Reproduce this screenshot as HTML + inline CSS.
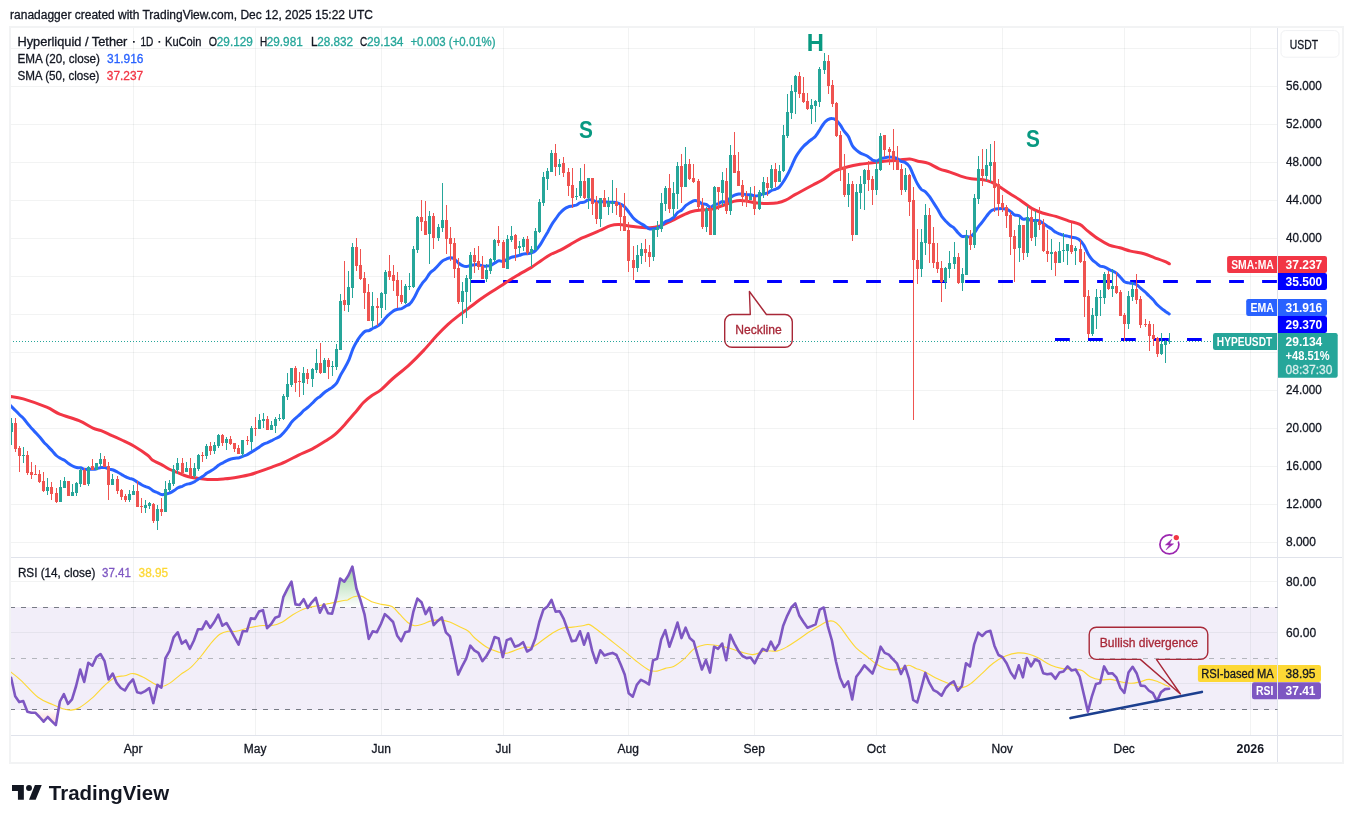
<!DOCTYPE html><html><head><meta charset="utf-8"><title>HYPEUSDT chart</title><style>html,body{margin:0;padding:0;background:#fff}svg{display:block;will-change:transform}</style></head><body><svg width="1353" height="823" viewBox="0 0 1353 823" font-family='"Liberation Sans", sans-serif'>
<rect width="1353" height="823" fill="#fff"/>
<text x="10.1" y="18.9" font-size="12" fill="#131722" font-weight="normal" text-anchor="start" textLength="362.9" lengthAdjust="spacingAndGlyphs" stroke="#131722" stroke-width="0.3">ranadagger created with TradingView.com, Dec 12, 2025 15:22 UTC</text>
<defs><clipPath id="mp"><rect x="11" y="28" width="1266.5" height="529"/></clipPath><clipPath id="rp"><rect x="11" y="558" width="1266.5" height="177"/></clipPath><linearGradient id="gg" x1="0" y1="566" x2="0" y2="607.5" gradientUnits="userSpaceOnUse"><stop offset="0" stop-color="#4caf50" stop-opacity="0.55"/><stop offset="1" stop-color="#4caf50" stop-opacity="0"/></linearGradient><linearGradient id="rg" x1="0" y1="709.5" x2="0" y2="730" gradientUnits="userSpaceOnUse"><stop offset="0" stop-color="#ff5252" stop-opacity="0"/><stop offset="1" stop-color="#ff5252" stop-opacity="0.35"/></linearGradient></defs>
<rect x="11" y="607" width="1266.5" height="103" fill="#f2eef9"/>
<path d="M133.5,28V557M133.5,558V735M255.5,28V557M255.5,558V735M381.5,28V557M381.5,558V735M503.5,28V557M503.5,558V735M628.5,28V557M628.5,558V735M754.5,28V557M754.5,558V735M876.5,28V557M876.5,558V735M1002.5,28V557M1002.5,558V735M1124.5,28V557M1124.5,558V735M1250.5,28V557M1250.5,558V735" stroke="#2a2e39" stroke-opacity="0.06" stroke-width="1" fill="none" shape-rendering="crispEdges"/>
<path d="M11,48.5H1277M11,86.5H1277M11,124.5H1277M11,162.5H1277M11,200.5H1277M11,238.5H1277M11,276.5H1277M11,314.5H1277M11,352.5H1277M11,390.5H1277M11,428.5H1277M11,466.5H1277M11,504.5H1277M11,542.5H1277M11,581.5H1277M11,632.5H1277M11,683.5H1277" stroke="#2a2e39" stroke-opacity="0.06" stroke-width="1" fill="none" shape-rendering="crispEdges"/>
<path d="M10,27H1343V763H10Z" stroke="#f2f3f4" stroke-width="2" fill="none" shape-rendering="crispEdges"/>
<path d="M11,557.5H1342M11,735.5H1342M1277.5,28V762" stroke="#e0e3eb" stroke-width="1" fill="none" shape-rendering="crispEdges"/>
<g clip-path="url(#mp)">
<path d="M470.1,281.5H1277.5" stroke="#0000ff" stroke-width="3" stroke-dasharray="14.8 18.2" fill="none"/>
<path d="M1055,339.5H1202" stroke="#0000ff" stroke-width="3" stroke-dasharray="14.8 18.2" fill="none"/>
<path d="M10,341.5H1213" stroke="#26a69a" stroke-width="1" stroke-dasharray="1 2" shape-rendering="crispEdges"/>
<path d="M10.1,396.5C12.3,396.9 17.2,397.1 23.3,398.9C29.4,400.7 40.6,404.7 46.7,407.2C52.8,409.7 54.3,411.9 59.7,414.1C65.1,416.3 73.5,418.3 79.0,420.6C84.5,422.9 89.2,426.4 92.9,428.1C96.6,429.8 98.0,429.5 101.1,430.7C104.2,431.9 108.0,433.8 111.5,435.4C115.0,436.9 118.0,438.2 121.8,440.0C125.6,441.8 129.8,443.6 134.2,446.2C138.6,448.8 145.0,453.2 148.0,455.5C151.0,457.8 149.8,458.4 152.3,460.0C154.8,461.6 159.9,463.8 162.8,465.4C165.8,467.0 167.5,468.3 170.0,469.5C172.5,470.7 174.9,471.4 177.8,472.6C180.8,473.8 184.0,475.5 187.7,476.5C191.3,477.5 195.7,478.0 199.7,478.5C203.7,479.0 207.6,479.6 211.8,479.6C216.0,479.7 220.7,479.2 225.1,478.8C229.5,478.4 234.3,477.6 238.5,476.9C242.7,476.2 247.2,475.4 250.5,474.5C253.8,473.6 254.9,473.0 258.5,471.8C262.1,470.6 267.4,468.8 271.9,467.1C276.4,465.4 280.9,463.8 285.3,461.8C289.8,459.8 294.2,457.2 298.6,455.1C303.1,453.0 307.5,451.4 312.0,449.1C316.5,446.8 321.5,443.6 325.4,441.1C329.2,438.6 331.9,437.1 335.1,434.3C338.4,431.5 341.3,428.4 344.9,424.4C348.5,420.4 353.8,414.1 356.9,410.5C360.0,406.9 361.1,404.9 363.5,402.5C365.9,400.1 368.7,397.9 371.6,395.8C374.5,393.7 377.3,392.7 380.9,389.8C384.4,386.9 388.2,382.6 392.9,378.5C397.6,374.4 403.9,369.8 409.0,365.1C414.1,360.4 419.1,355.3 423.7,350.4C428.3,345.5 432.6,340.0 436.6,335.7C440.7,331.4 444.4,327.7 448.0,324.4C451.6,321.1 454.8,318.6 458.3,315.9C461.8,313.1 465.4,310.6 469.0,307.9C472.6,305.2 476.1,302.4 479.7,299.8C483.3,297.2 486.8,294.8 490.4,292.5C494.0,290.2 497.9,287.9 501.1,285.8C504.3,283.7 506.6,281.9 509.8,279.9C513.0,277.9 516.8,275.7 520.3,273.6C523.8,271.6 527.4,269.8 531.0,267.6C534.6,265.4 538.4,262.4 541.7,260.2C545.0,258.0 547.9,255.9 551.0,254.2C554.1,252.5 557.2,251.8 560.4,250.2C563.6,248.6 567.0,246.4 570.1,244.6C573.2,242.8 576.0,240.9 579.2,239.3C582.4,237.7 585.7,236.7 589.1,235.2C592.5,233.7 596.2,232.1 599.8,230.5C603.4,228.9 607.3,226.6 610.5,225.6C613.7,224.6 616.1,224.4 619.2,224.5C622.3,224.6 625.8,225.5 629.2,225.9C632.7,226.3 636.4,226.9 639.9,227.2C643.4,227.5 646.8,228.0 650.0,227.8C653.2,227.7 655.7,227.4 659.3,226.3C662.9,225.2 667.6,222.8 671.4,221.0C675.2,219.2 678.6,217.2 682.0,215.6C685.4,214.0 688.8,212.4 692.0,211.5C695.2,210.6 697.9,210.5 701.5,210.1C705.1,209.7 709.7,209.7 713.5,208.8C717.3,208.0 720.9,206.2 724.2,205.0C727.6,203.8 730.9,202.2 733.6,201.4C736.3,200.7 737.8,200.5 740.3,200.5C742.8,200.5 745.4,201.0 748.3,201.4C751.2,201.8 754.5,202.8 757.6,203.1C760.7,203.4 763.6,203.5 767.0,203.4C770.4,203.3 774.6,203.2 777.7,202.7C780.8,202.1 783.0,201.3 785.7,200.1C788.4,198.9 791.3,196.8 793.7,195.4C796.1,194.1 796.8,193.7 800.0,192.0C803.2,190.3 809.0,187.1 812.9,185.0C816.8,182.9 819.9,181.5 823.6,179.2C827.3,176.9 831.2,173.1 835.3,171.0C839.4,168.9 843.9,167.9 848.0,166.8C852.1,165.7 855.9,165.0 860.0,164.3C864.1,163.6 867.8,163.4 872.5,162.8C877.2,162.2 884.1,161.2 888.5,160.8C892.9,160.4 895.6,160.4 899.1,160.1C902.6,159.8 906.7,158.8 909.8,159.0C912.9,159.2 914.8,160.5 917.9,161.2C921.0,161.9 925.0,162.1 928.5,163.4C932.0,164.7 935.6,167.4 939.2,168.8C942.8,170.2 946.3,170.9 949.9,172.1C953.5,173.3 957.0,175.0 960.6,176.1C964.2,177.2 967.7,178.2 971.3,178.8C974.9,179.4 978.6,178.9 982.0,179.5C985.4,180.1 988.3,180.8 991.4,182.1C994.5,183.4 997.7,185.6 1000.7,187.5C1003.8,189.4 1006.5,191.5 1009.7,193.6C1012.9,195.7 1016.3,197.5 1020.0,200.0C1023.7,202.5 1028.0,206.2 1031.7,208.4C1035.4,210.6 1038.4,211.7 1042.4,213.0C1046.4,214.3 1051.3,215.1 1055.8,216.4C1060.2,217.8 1065.1,219.8 1069.1,221.1C1073.1,222.4 1076.7,222.7 1079.8,224.4C1082.9,226.1 1084.8,228.7 1087.9,231.1C1091.0,233.5 1095.0,236.8 1098.5,239.1C1102.0,241.4 1105.6,243.6 1109.2,245.1C1112.8,246.6 1116.3,246.8 1119.9,247.8C1123.5,248.8 1126.6,250.1 1130.6,251.1C1134.6,252.1 1140.0,252.7 1144.0,253.8C1148.0,254.9 1151.4,256.6 1154.7,257.8C1158.0,259.0 1161.5,260.2 1164.0,261.2C1166.5,262.2 1168.5,263.4 1169.4,263.8" stroke="#f23645" stroke-width="3" fill="none" stroke-linecap="round" stroke-linejoin="round"/>
<path d="M10.5,405.5C10.7,405.7 10.8,405.9 11.7,406.8C12.5,407.6 14.4,409.4 15.7,410.7C17.1,412.1 18.4,413.7 19.8,415.0C21.1,416.4 22.5,417.3 23.8,418.8C25.2,420.3 26.5,422.3 27.9,424.0C29.3,425.6 30.6,427.2 32.0,428.8C33.3,430.3 34.7,431.6 36.0,433.0C37.4,434.5 38.7,435.9 40.1,437.5C41.4,439.0 42.8,440.9 44.1,442.4C45.5,443.9 46.9,445.2 48.2,446.6C49.6,448.0 50.9,449.4 52.3,450.9C53.6,452.4 55.0,454.3 56.3,455.5C57.7,456.8 59.0,457.5 60.4,458.3C61.7,459.1 63.1,459.5 64.5,460.3C65.8,461.2 67.2,462.5 68.5,463.4C69.9,464.4 71.2,465.3 72.6,466.0C73.9,466.7 75.3,467.2 76.6,467.5C78.0,467.8 79.3,467.5 80.7,467.8C82.1,468.1 83.4,469.1 84.8,469.3C86.1,469.6 87.5,469.2 88.8,469.2C90.2,469.2 91.5,469.4 92.9,469.3C94.2,469.2 95.6,469.0 96.9,468.7C98.3,468.4 99.7,467.8 101.0,467.6C102.4,467.4 103.7,467.3 105.1,467.5C106.4,467.8 107.8,468.7 109.1,469.1C110.5,469.5 111.8,469.5 113.2,470.0C114.5,470.5 115.9,471.3 117.3,472.0C118.6,472.7 120.0,473.5 121.3,474.3C122.7,475.0 124.0,475.9 125.4,476.6C126.7,477.3 128.1,477.8 129.4,478.3C130.8,478.8 132.1,478.9 133.5,479.6C134.9,480.3 136.2,481.4 137.6,482.3C138.9,483.1 140.3,484.0 141.6,484.7C143.0,485.5 144.3,486.1 145.7,486.7C147.0,487.2 148.4,487.5 149.7,488.2C151.1,489.0 152.5,490.4 153.8,491.2C155.2,491.9 156.5,492.2 157.9,492.8C159.2,493.4 160.6,494.4 161.9,494.6C163.3,494.8 164.6,494.3 166.0,494.1C167.3,493.8 168.7,493.5 170.1,492.9C171.4,492.3 172.8,491.4 174.1,490.5C175.5,489.6 176.8,488.4 178.2,487.7C179.5,487.0 180.9,486.8 182.2,486.3C183.6,485.7 184.9,484.8 186.3,484.4C187.7,483.9 189.0,483.9 190.4,483.5C191.7,483.1 193.1,482.6 194.4,481.8C195.8,481.1 197.1,479.9 198.5,479.0C199.8,478.1 201.2,477.5 202.5,476.6C203.9,475.7 205.3,474.3 206.6,473.3C208.0,472.4 209.3,471.9 210.7,471.0C212.0,470.2 213.4,469.4 214.7,468.4C216.1,467.4 217.4,466.0 218.8,465.1C220.1,464.1 221.5,463.6 222.9,462.9C224.2,462.1 225.6,461.2 226.9,460.6C228.3,459.9 229.6,459.4 231.0,459.0C232.3,458.7 233.7,458.4 235.0,458.2C236.4,458.0 237.7,458.1 239.1,457.8C240.5,457.4 241.8,456.7 243.2,456.1C244.5,455.6 245.9,455.4 247.2,454.7C248.6,454.0 249.9,452.9 251.3,452.1C252.6,451.3 254.0,450.7 255.3,449.8C256.7,448.9 258.1,447.8 259.4,446.9C260.8,445.9 262.1,444.8 263.5,444.1C264.8,443.4 266.2,443.1 267.5,442.6C268.9,442.0 270.2,441.4 271.6,440.7C272.9,440.0 274.3,439.2 275.7,438.5C277.0,437.8 278.4,437.5 279.7,436.5C281.1,435.5 282.4,433.9 283.8,432.4C285.1,431.0 286.5,429.4 287.8,427.6C289.2,425.9 290.5,423.4 291.9,421.8C293.3,420.1 294.6,419.1 296.0,417.9C297.3,416.6 298.7,415.6 300.0,414.4C301.4,413.1 302.7,411.4 304.1,410.2C305.4,409.0 306.8,408.3 308.1,407.1C309.5,405.9 310.9,404.6 312.2,403.3C313.6,401.9 314.9,400.3 316.3,399.1C317.6,397.9 319.0,397.4 320.3,396.3C321.7,395.2 323.0,393.6 324.4,392.5C325.7,391.4 327.1,390.6 328.5,389.7C329.8,388.8 331.2,388.2 332.5,387.1C333.9,386.0 335.2,385.2 336.6,383.2C337.9,381.2 339.3,377.6 340.6,375.1C342.0,372.6 343.3,370.6 344.7,368.1C346.1,365.6 347.4,363.3 348.8,360.2C350.1,357.0 351.5,352.4 352.8,349.2C354.2,346.1 355.5,343.6 356.9,341.3C358.2,339.0 359.6,337.1 360.9,335.4C362.3,333.8 363.7,332.2 365.0,331.4C366.4,330.6 367.7,331.0 369.1,330.5C370.4,330.0 371.8,328.9 373.1,328.2C374.5,327.5 375.8,327.1 377.2,326.2C378.5,325.4 379.9,324.5 381.3,323.1C382.6,321.8 384.0,319.6 385.3,318.2C386.7,316.7 388.0,315.4 389.4,314.2C390.7,313.0 392.1,311.8 393.4,310.9C394.8,310.1 396.1,309.7 397.5,309.3C398.9,308.9 400.2,309.1 401.6,308.6C402.9,308.1 404.3,307.0 405.6,306.2C407.0,305.4 408.3,305.2 409.7,304.0C411.0,302.7 412.4,300.8 413.7,298.5C415.1,296.3 416.5,293.0 417.8,290.5C419.2,288.1 420.5,285.7 421.9,283.8C423.2,281.9 424.6,280.9 425.9,279.1C427.3,277.3 428.6,274.6 430.0,273.0C431.3,271.4 432.7,270.8 434.1,269.6C435.4,268.3 436.8,266.9 438.1,265.5C439.5,264.1 440.8,262.2 442.2,261.2C443.5,260.1 444.9,259.7 446.2,259.2C447.6,258.6 448.9,257.8 450.3,257.7C451.7,257.7 453.0,258.0 454.4,258.9C455.7,259.8 457.1,261.9 458.4,263.0C459.8,264.1 461.1,265.0 462.5,265.6C463.8,266.2 465.2,266.7 466.5,266.6C467.9,266.6 469.3,265.7 470.6,265.4C472.0,265.1 473.3,264.8 474.7,264.7C476.0,264.6 477.4,264.5 478.7,264.7C480.1,264.9 481.4,265.7 482.8,265.9C484.1,266.1 485.5,266.2 486.9,266.1C488.2,266.0 489.6,265.8 490.9,265.3C492.3,264.7 493.6,263.5 495.0,262.8C496.3,262.1 497.7,261.0 499.0,260.8C500.4,260.6 501.7,261.7 503.1,261.5C504.5,261.3 505.8,260.1 507.2,259.4C508.5,258.7 509.9,257.8 511.2,257.3C512.6,256.8 513.9,256.7 515.3,256.4C516.6,256.1 518.0,255.8 519.3,255.4C520.7,255.0 522.1,254.2 523.4,254.0C524.8,253.7 526.1,253.9 527.5,253.7C528.8,253.5 530.2,253.4 531.5,252.9C532.9,252.3 534.2,251.7 535.6,250.5C536.9,249.3 538.3,247.5 539.6,245.6C541.0,243.6 542.4,240.9 543.7,238.7C545.1,236.4 546.4,234.4 547.8,232.0C549.1,229.6 550.5,226.6 551.8,224.4C553.2,222.1 554.5,220.5 555.9,218.6C557.2,216.8 558.6,214.7 560.0,213.1C561.3,211.5 562.7,210.2 564.0,209.2C565.4,208.2 566.7,207.5 568.1,207.0C569.4,206.4 570.8,206.4 572.1,206.1C573.5,205.8 574.8,205.7 576.2,205.2C577.6,204.6 578.9,203.2 580.3,202.7C581.6,202.2 583.0,202.7 584.3,202.2C585.7,201.7 587.0,200.1 588.4,199.8C589.7,199.4 591.1,199.7 592.4,200.1C593.8,200.4 595.2,201.6 596.5,201.9C597.9,202.1 599.2,201.4 600.6,201.4C601.9,201.4 603.3,201.9 604.6,202.0C606.0,202.1 607.3,202.1 608.7,202.2C610.0,202.2 611.4,202.2 612.8,202.3C614.1,202.4 615.5,202.5 616.8,202.8C618.2,203.1 619.5,203.6 620.9,204.3C622.2,205.0 623.6,205.7 624.9,207.1C626.3,208.4 627.6,210.6 629.0,212.4C630.4,214.2 631.7,216.3 633.1,217.8C634.4,219.2 635.8,220.3 637.1,221.3C638.5,222.3 639.8,222.9 641.2,223.7C642.5,224.5 643.9,225.3 645.2,226.2C646.6,227.1 648.0,228.5 649.3,228.9C650.7,229.3 652.0,228.8 653.4,228.7C654.7,228.6 656.1,228.7 657.4,228.2C658.8,227.7 660.1,226.7 661.5,225.6C662.8,224.4 664.2,222.4 665.6,221.5C666.9,220.6 668.3,220.8 669.6,220.1C671.0,219.4 672.3,218.6 673.7,217.4C675.0,216.1 676.4,213.7 677.7,212.5C679.1,211.3 680.4,211.2 681.8,210.0C683.2,208.9 684.5,206.6 685.9,205.4C687.2,204.2 688.6,203.6 689.9,202.8C691.3,202.0 692.6,201.0 694.0,200.7C695.3,200.5 696.7,200.7 698.0,201.2C699.4,201.7 700.8,203.2 702.1,203.7C703.5,204.2 704.8,203.8 706.2,204.3C707.5,204.9 708.9,206.9 710.2,207.0C711.6,207.1 712.9,205.5 714.3,204.9C715.6,204.4 717.0,204.2 718.4,203.6C719.7,203.0 721.1,201.6 722.4,201.4C723.8,201.2 725.1,202.8 726.5,202.2C727.8,201.6 729.2,198.8 730.5,197.6C731.9,196.5 733.2,195.8 734.6,195.2C736.0,194.6 737.3,194.3 738.7,194.1C740.0,193.9 741.4,193.9 742.7,194.0C744.1,194.1 745.4,194.7 746.8,194.8C748.1,194.9 749.5,194.6 750.8,194.8C752.2,195.0 753.6,195.9 754.9,196.0C756.3,196.1 757.6,195.8 759.0,195.4C760.3,195.1 761.7,194.3 763.0,193.9C764.4,193.5 765.7,193.8 767.1,193.2C768.4,192.7 769.8,191.3 771.2,190.7C772.5,190.0 773.9,189.9 775.2,189.3C776.6,188.7 777.9,188.4 779.3,187.1C780.6,185.9 782.0,183.8 783.3,181.8C784.7,179.7 786.0,177.4 787.4,174.8C788.8,172.3 790.1,169.3 791.5,166.4C792.8,163.5 794.2,160.0 795.5,157.5C796.9,154.9 798.2,153.0 799.6,151.1C800.9,149.2 802.3,147.6 803.6,146.2C805.0,144.7 806.4,143.7 807.7,142.6C809.1,141.4 810.4,140.4 811.8,139.3C813.1,138.2 814.5,137.5 815.8,135.8C817.2,134.2 818.5,131.7 819.9,129.6C821.2,127.5 822.6,124.9 824.0,123.2C825.3,121.5 826.7,120.5 828.0,119.6C829.4,118.8 830.7,118.3 832.1,118.4C833.4,118.4 834.8,119.0 836.1,120.1C837.5,121.2 838.8,123.0 840.2,124.9C841.6,126.8 842.9,129.5 844.3,131.4C845.6,133.3 847.0,134.0 848.3,136.4C849.7,138.7 851.0,143.5 852.4,145.7C853.7,148.0 855.1,148.9 856.4,150.1C857.8,151.3 859.2,152.3 860.5,153.1C861.9,153.9 863.2,154.1 864.6,154.8C865.9,155.4 867.3,156.0 868.6,156.9C870.0,157.8 871.3,159.4 872.7,160.1C874.0,160.7 875.4,161.1 876.8,160.9C878.1,160.7 879.5,159.2 880.8,158.6C882.2,158.1 883.5,157.9 884.9,157.7C886.2,157.4 887.6,157.1 888.9,157.1C890.3,157.0 891.6,157.2 893.0,157.4C894.4,157.7 895.7,157.9 897.1,158.6C898.4,159.2 899.8,160.7 901.1,161.4C902.5,162.0 903.8,161.7 905.2,162.5C906.5,163.3 907.9,164.1 909.2,166.2C910.6,168.3 912.0,172.0 913.3,175.0C914.7,177.9 916.0,181.4 917.4,183.8C918.7,186.2 920.1,188.1 921.4,189.5C922.8,190.8 924.1,190.6 925.5,191.8C926.8,193.0 928.2,194.8 929.6,196.6C930.9,198.5 932.3,200.8 933.6,202.9C935.0,205.1 936.3,207.1 937.7,209.3C939.0,211.6 940.4,214.4 941.7,216.4C943.1,218.3 944.4,219.7 945.8,221.2C947.2,222.6 948.5,224.0 949.9,225.1C951.2,226.3 952.6,226.6 953.9,227.8C955.3,229.1 956.6,231.2 958.0,232.7C959.3,234.1 960.7,235.9 962.0,236.4C963.4,237.0 964.8,236.1 966.1,236.2C967.5,236.3 968.8,237.4 970.2,236.9C971.5,236.4 972.9,234.8 974.2,233.1C975.6,231.4 976.9,228.7 978.3,226.9C979.6,225.0 981.0,223.7 982.4,221.9C983.7,220.2 985.1,218.2 986.4,216.4C987.8,214.6 989.1,212.5 990.5,211.3C991.8,210.1 993.2,209.7 994.5,209.3C995.9,208.8 997.2,208.8 998.6,208.7C1000.0,208.6 1001.3,208.5 1002.7,208.6C1004.0,208.7 1005.4,208.7 1006.7,209.2C1008.1,209.7 1009.4,210.7 1010.8,211.7C1012.1,212.7 1013.5,214.3 1014.8,215.0C1016.2,215.6 1017.6,215.0 1018.9,215.7C1020.3,216.4 1021.6,218.6 1023.0,219.1C1024.3,219.6 1025.7,218.6 1027.0,218.8C1028.4,219.0 1029.7,220.1 1031.1,220.4C1032.4,220.7 1033.8,220.4 1035.2,220.4C1036.5,220.5 1037.9,220.2 1039.2,220.7C1040.6,221.2 1041.9,222.6 1043.3,223.5C1044.6,224.4 1046.0,225.4 1047.3,226.2C1048.7,227.1 1050.0,227.8 1051.4,228.8C1052.8,229.8 1054.1,231.3 1055.5,232.1C1056.8,233.0 1058.2,233.4 1059.5,233.9C1060.9,234.5 1062.2,235.0 1063.6,235.4C1064.9,235.7 1066.3,235.8 1067.6,236.1C1069.0,236.4 1070.4,236.9 1071.7,237.2C1073.1,237.5 1074.4,237.4 1075.8,237.9C1077.1,238.4 1078.5,238.8 1079.8,240.1C1081.2,241.3 1082.5,243.0 1083.9,245.3C1085.2,247.6 1086.6,251.3 1088.0,253.7C1089.3,256.1 1090.7,257.9 1092.0,259.4C1093.4,261.0 1094.7,261.8 1096.1,262.9C1097.4,264.0 1098.8,265.4 1100.1,266.1C1101.5,266.7 1102.8,266.3 1104.2,266.8C1105.6,267.3 1106.9,268.4 1108.3,269.1C1109.6,269.8 1111.0,270.3 1112.3,270.9C1113.7,271.6 1115.0,272.1 1116.4,273.1C1117.7,274.2 1119.1,275.9 1120.4,277.3C1121.8,278.7 1123.2,280.7 1124.5,281.7C1125.9,282.6 1127.2,282.6 1128.6,282.9C1129.9,283.2 1131.3,283.1 1132.6,283.4C1134.0,283.7 1135.3,284.0 1136.7,284.8C1138.0,285.6 1139.4,287.2 1140.8,288.3C1142.1,289.4 1143.5,290.4 1144.8,291.6C1146.2,292.8 1147.5,294.4 1148.9,295.7C1150.2,297.0 1151.6,298.1 1152.9,299.6C1154.3,301.1 1155.6,303.1 1157.0,304.5C1158.4,305.9 1159.7,307.0 1161.1,308.1C1162.4,309.2 1163.8,310.2 1165.1,311.2C1166.5,312.2 1168.5,313.5 1169.2,314.0" stroke="#2962ff" stroke-width="3" fill="none" stroke-linecap="round" stroke-linejoin="round"/>
<path d="M11.5,418V445M23.5,447V463M47.5,478V495M60.5,480V502M64.5,477V488M72.5,484V496M76.5,482V496M80.5,468V487M88.5,466V486M96.5,463V470M100.5,453V467M112.5,474V485M129.5,490V502M133.5,485V495M145.5,500V513M149.5,502V509M157.5,505V530M165.5,481V512M169.5,480V492M173.5,465V486M177.5,458V474M186.5,462V472M194.5,463V478M198.5,454V471M206.5,444V459M214.5,442V454M218.5,434V448M226.5,437V450M242.5,440V457M251.5,426V450M259.5,414V429M263.5,413V428M271.5,421V430M275.5,417V433M279.5,414V421M283.5,394V420M287.5,373V400M291.5,368V387M303.5,367V395M312.5,368V387M316.5,349V373M324.5,358V373M332.5,361V376M336.5,344V370M340.5,294V350M348.5,271V312M352.5,243V298M372.5,292V327M381.5,292V318M385.5,270V310M405.5,284V304M409.5,273V290M413.5,246V288M417.5,216V253M429.5,211V264M438.5,224V241M442.5,183V232M462.5,282V324M466.5,275V318M470.5,252V302M486.5,264V282M490.5,258V274M494.5,239V262M507.5,235V269M511.5,226V242M519.5,241V254M523.5,237V251M531.5,246V267M535.5,228V250M539.5,199V233M543.5,172V206M547.5,168V190M551.5,150V172M559.5,159V175M576.5,188V200M580.5,168V198M588.5,178V209M600.5,198V227M608.5,197V215M612.5,180V213M637.5,245V272M641.5,243V264M653.5,229V261M657.5,221V237M661.5,193V232M665.5,186V211M673.5,182V217M677.5,162V209M685.5,147V187M706.5,207V232M714.5,186V235M722.5,172V206M730.5,145V215M750.5,187V200M759.5,190V210M763.5,177V198M771.5,165V190M779.5,165V182M783.5,125V172M787.5,94V138M791.5,85V119M795.5,75V114M811.5,99V124M815.5,100V122M819.5,67V107M824.5,53V74M848.5,173V207M856.5,184V235M860.5,176V209M864.5,169V210M876.5,161V195M880.5,133V171M905.5,168V192M921.5,229V277M925.5,204V255M945.5,267V289M949.5,251V278M954.5,242V269M962.5,268V291M966.5,230V275M974.5,194V248M978.5,156V204M986.5,149V181M990.5,144V182M1019.5,217V262M1027.5,206V257M1035.5,211V246M1051.5,239V270M1059.5,242V263M1063.5,233V262M1067.5,244V265M1075.5,246V265M1092.5,308V336M1096.5,289V329M1100.5,290V316M1104.5,272V304M1112.5,269V297M1128.5,291V329M1132.5,282V301M1161.5,333V355M1165.5,340V363M1169.5,333V344" stroke="#26a69a" stroke-width="1" fill="none" shape-rendering="crispEdges"/>
<path d="M15.5,418V452M19.5,446V472M27.5,451V475M31.5,462V479M35.5,465V475M39.5,470V483M43.5,472V492M51.5,482V500M56.5,488V503M68.5,481V496M84.5,468V485M92.5,459V470M104.5,456V467M108.5,462V500M117.5,476V494M121.5,489V500M125.5,494V502M137.5,481V507M141.5,498V513M153.5,503V523M161.5,498V516M182.5,458V475M190.5,458V477M202.5,452V462M210.5,442V455M222.5,434V446M230.5,436V445M234.5,443V452M238.5,445V454M247.5,436V445M255.5,417V436M267.5,416V430M295.5,366V392M299.5,372V397M307.5,369V384M320.5,343V374M328.5,358V379M344.5,261V311M356.5,238V271M360.5,249V280M364.5,272V309M368.5,284V321M377.5,298V326M389.5,255V280M393.5,265V291M397.5,272V308M401.5,280V304M421.5,200V231M425.5,201V235M433.5,213V249M446.5,205V254M450.5,227V261M454.5,238V278M458.5,258V304M474.5,248V273M478.5,246V270M482.5,256V279M498.5,226V246M503.5,240V268M515.5,234V261M527.5,236V255M555.5,144V176M563.5,157V177M568.5,168V196M572.5,168V208M584.5,164V199M592.5,178V215M596.5,196V224M604.5,190V207M616.5,188V215M620.5,203V231M624.5,193V231M628.5,222V272M633.5,246V280M645.5,239V262M649.5,245V267M669.5,174V213M681.5,154V203M689.5,159V180M693.5,164V183M698.5,179V209M702.5,198V229M710.5,206V235M718.5,187V210M726.5,168V214M734.5,132V173M738.5,152V186M742.5,180V206M746.5,191V207M754.5,186V215M767.5,177V196M775.5,163V187M799.5,72V98M803.5,77V103M807.5,93V110M828.5,55V94M832.5,80V107M836.5,102V137M840.5,131V181M844.5,154V197M852.5,181V241M868.5,161V191M872.5,176V205M884.5,135V157M889.5,147V165M893.5,129V170M897.5,146V170M901.5,164V195M909.5,174V216M913.5,187V420M917.5,229V284M929.5,208V263M933.5,227V268M937.5,243V273M941.5,261V302M958.5,253V284M970.5,230V250M982.5,149V186M994.5,141V212M998.5,179V216M1002.5,195V212M1006.5,205V228M1010.5,212V255M1014.5,230V282M1023.5,225V260M1031.5,209V241M1039.5,207V230M1043.5,219V252M1047.5,230V262M1055.5,251V276M1071.5,223V254M1080.5,240V263M1084.5,252V317M1088.5,290V338M1108.5,271V290M1116.5,272V294M1120.5,290V316M1124.5,313V341M1136.5,274V304M1140.5,296V328M1145.5,319V327M1149.5,321V351M1153.5,324V346M1157.5,337V357" stroke="#ef5350" stroke-width="1" fill="none" shape-rendering="crispEdges"/>
<path d="M10.0,423h3V432h-3ZM22.0,455h3V456h-3ZM46.0,487h3V491h-3ZM59.0,487h3V502h-3ZM63.0,481h3V488h-3ZM71.0,492h3V496h-3ZM75.0,483h3V493h-3ZM79.0,470h3V484h-3ZM87.0,467h3V484h-3ZM95.0,463h3V470h-3ZM99.0,459h3V464h-3ZM111.0,479h3V485h-3ZM128.0,494h3V500h-3ZM132.0,491h3V495h-3ZM144.0,505h3V508h-3ZM148.0,503h3V506h-3ZM156.0,509h3V521h-3ZM164.0,489h3V512h-3ZM168.0,483h3V490h-3ZM172.0,469h3V484h-3ZM176.0,463h3V470h-3ZM185.0,468h3V472h-3ZM193.0,468h3V476h-3ZM197.0,455h3V469h-3ZM205.0,446h3V456h-3ZM213.0,445h3V451h-3ZM217.0,435h3V446h-3ZM225.0,439h3V443h-3ZM241.0,440h3V454h-3ZM250.0,428h3V442h-3ZM258.0,420h3V429h-3ZM262.0,419h3V421h-3ZM270.0,425h3V430h-3ZM274.0,419h3V426h-3ZM278.0,418h3V419h-3ZM282.0,396h3V419h-3ZM286.0,384h3V397h-3ZM290.0,368h3V385h-3ZM302.0,373h3V383h-3ZM311.0,369h3V379h-3ZM315.0,363h3V370h-3ZM323.0,360h3V373h-3ZM331.0,366h3V367h-3ZM335.0,349h3V367h-3ZM339.0,301h3V350h-3ZM347.0,287h3V305h-3ZM351.0,247h3V288h-3ZM371.0,306h3V321h-3ZM380.0,293h3V308h-3ZM384.0,272h3V294h-3ZM404.0,286h3V303h-3ZM408.0,286h3V287h-3ZM412.0,249h3V287h-3ZM416.0,217h3V250h-3ZM428.0,216h3V234h-3ZM437.0,227h3V238h-3ZM441.0,220h3V228h-3ZM461.0,291h3V302h-3ZM465.0,278h3V292h-3ZM469.0,255h3V279h-3ZM485.0,270h3V279h-3ZM489.0,259h3V271h-3ZM493.0,240h3V260h-3ZM506.0,239h3V269h-3ZM510.0,236h3V240h-3ZM518.0,246h3V248h-3ZM522.0,239h3V247h-3ZM530.0,249h3V253h-3ZM534.0,231h3V250h-3ZM538.0,202h3V232h-3ZM542.0,177h3V203h-3ZM546.0,171h3V179h-3ZM550.0,153h3V172h-3ZM558.0,164h3V167h-3ZM575.0,196h3V197h-3ZM579.0,181h3V196h-3ZM587.0,178h3V198h-3ZM599.0,198h3V219h-3ZM607.0,202h3V207h-3ZM611.0,202h3V204h-3ZM636.0,255h3V268h-3ZM640.0,249h3V256h-3ZM652.0,229h3V257h-3ZM656.0,227h3V230h-3ZM660.0,203h3V229h-3ZM664.0,188h3V204h-3ZM672.0,193h3V209h-3ZM676.0,166h3V194h-3ZM684.0,164h3V187h-3ZM705.0,209h3V227h-3ZM713.0,187h3V235h-3ZM721.0,180h3V193h-3ZM729.0,155h3V211h-3ZM749.0,196h3V200h-3ZM758.0,192h3V209h-3ZM762.0,182h3V195h-3ZM770.0,169h3V188h-3ZM778.0,171h3V182h-3ZM782.0,135h3V171h-3ZM786.0,112h3V136h-3ZM790.0,91h3V113h-3ZM794.0,76h3V92h-3ZM810.0,105h3V109h-3ZM814.0,101h3V106h-3ZM818.0,69h3V102h-3ZM823.0,61h3V70h-3ZM847.0,184h3V195h-3ZM855.0,192h3V235h-3ZM859.0,184h3V193h-3ZM863.0,170h3V184h-3ZM875.0,169h3V190h-3ZM879.0,136h3V170h-3ZM904.0,175h3V190h-3ZM920.0,242h3V269h-3ZM924.0,215h3V243h-3ZM944.0,268h3V282h-3ZM948.0,263h3V269h-3ZM953.0,257h3V264h-3ZM961.0,274h3V283h-3ZM965.0,236h3V275h-3ZM973.0,198h3V245h-3ZM977.0,169h3V199h-3ZM985.0,165h3V176h-3ZM989.0,162h3V166h-3ZM1018.0,225h3V248h-3ZM1026.0,217h3V253h-3ZM1034.0,221h3V237h-3ZM1050.0,252h3V254h-3ZM1058.0,251h3V263h-3ZM1062.0,250h3V251h-3ZM1066.0,244h3V251h-3ZM1074.0,248h3V251h-3ZM1091.0,315h3V334h-3ZM1095.0,297h3V316h-3ZM1099.0,297h3V298h-3ZM1103.0,274h3V298h-3ZM1111.0,286h3V289h-3ZM1127.0,296h3V324h-3ZM1131.0,289h3V297h-3ZM1160.0,344h3V354h-3ZM1164.0,341h3V345h-3ZM1168.0,341h3V342h-3Z" fill="#26a69a" shape-rendering="crispEdges"/>
<path d="M14.0,423h3V449h-3ZM18.0,448h3V456h-3ZM26.0,455h3V473h-3ZM30.0,472h3V475h-3ZM34.0,474h3V475h-3ZM38.0,474h3V482h-3ZM42.0,481h3V491h-3ZM50.0,487h3V494h-3ZM55.0,493h3V502h-3ZM67.0,481h3V496h-3ZM83.0,470h3V485h-3ZM91.0,466h3V470h-3ZM103.0,459h3V467h-3ZM107.0,466h3V485h-3ZM116.0,479h3V491h-3ZM120.0,490h3V497h-3ZM124.0,496h3V500h-3ZM136.0,491h3V507h-3ZM140.0,506h3V507h-3ZM152.0,504h3V521h-3ZM160.0,509h3V512h-3ZM181.0,463h3V473h-3ZM189.0,468h3V476h-3ZM201.0,455h3V456h-3ZM209.0,446h3V451h-3ZM221.0,435h3V443h-3ZM229.0,439h3V444h-3ZM233.0,443h3V449h-3ZM237.0,448h3V454h-3ZM246.0,440h3V441h-3ZM254.0,428h3V429h-3ZM266.0,419h3V430h-3ZM294.0,368h3V383h-3ZM298.0,381h3V382h-3ZM306.0,373h3V379h-3ZM319.0,363h3V373h-3ZM327.0,360h3V367h-3ZM343.0,300h3V305h-3ZM355.0,247h3V266h-3ZM359.0,265h3V279h-3ZM363.0,278h3V293h-3ZM367.0,292h3V321h-3ZM376.0,306h3V308h-3ZM388.0,271h3V277h-3ZM392.0,275h3V281h-3ZM396.0,280h3V296h-3ZM400.0,295h3V302h-3ZM420.0,217h3V222h-3ZM424.0,221h3V235h-3ZM432.0,216h3V238h-3ZM445.0,220h3V239h-3ZM449.0,238h3V244h-3ZM453.0,243h3V269h-3ZM457.0,268h3V302h-3ZM473.0,255h3V262h-3ZM477.0,261h3V267h-3ZM481.0,266h3V279h-3ZM497.0,240h3V243h-3ZM502.0,242h3V268h-3ZM514.0,235h3V249h-3ZM526.0,239h3V253h-3ZM554.0,153h3V167h-3ZM562.0,163h3V173h-3ZM567.0,172h3V186h-3ZM571.0,185h3V198h-3ZM583.0,181h3V198h-3ZM591.0,178h3V204h-3ZM595.0,202h3V219h-3ZM603.0,198h3V207h-3ZM615.0,202h3V206h-3ZM619.0,205h3V217h-3ZM623.0,216h3V231h-3ZM627.0,230h3V261h-3ZM632.0,260h3V268h-3ZM644.0,249h3V253h-3ZM648.0,252h3V257h-3ZM668.0,188h3V209h-3ZM680.0,166h3V187h-3ZM688.0,164h3V179h-3ZM692.0,178h3V182h-3ZM697.0,181h3V207h-3ZM701.0,205h3V227h-3ZM709.0,209h3V235h-3ZM717.0,187h3V192h-3ZM725.0,181h3V211h-3ZM733.0,155h3V173h-3ZM737.0,171h3V186h-3ZM741.0,185h3V197h-3ZM745.0,196h3V202h-3ZM753.0,197h3V209h-3ZM766.0,183h3V188h-3ZM774.0,169h3V182h-3ZM798.0,76h3V94h-3ZM802.0,93h3V102h-3ZM806.0,101h3V109h-3ZM827.0,61h3V86h-3ZM831.0,85h3V104h-3ZM835.0,103h3V136h-3ZM839.0,135h3V170h-3ZM843.0,167h3V195h-3ZM851.0,184h3V235h-3ZM867.0,170h3V180h-3ZM871.0,179h3V190h-3ZM883.0,135h3V150h-3ZM888.0,149h3V152h-3ZM892.0,151h3V160h-3ZM896.0,160h3V170h-3ZM900.0,169h3V190h-3ZM908.0,175h3V202h-3ZM912.0,200h3V260h-3ZM916.0,260h3V269h-3ZM928.0,215h3V244h-3ZM932.0,243h3V263h-3ZM936.0,262h3V269h-3ZM940.0,268h3V282h-3ZM957.0,257h3V283h-3ZM969.0,236h3V245h-3ZM981.0,169h3V176h-3ZM993.0,162h3V188h-3ZM997.0,184h3V204h-3ZM1001.0,203h3V208h-3ZM1005.0,207h3V216h-3ZM1009.0,215h3V237h-3ZM1013.0,236h3V249h-3ZM1022.0,225h3V253h-3ZM1030.0,217h3V238h-3ZM1038.0,221h3V225h-3ZM1042.0,224h3V251h-3ZM1046.0,251h3V254h-3ZM1054.0,252h3V263h-3ZM1070.0,245h3V252h-3ZM1079.0,249h3V262h-3ZM1083.0,261h3V297h-3ZM1087.0,296h3V334h-3ZM1107.0,274h3V289h-3ZM1115.0,286h3V293h-3ZM1119.0,292h3V316h-3ZM1123.0,315h3V324h-3ZM1135.0,289h3V300h-3ZM1139.0,299h3V325h-3ZM1144.0,324h3V325h-3ZM1148.0,324h3V336h-3ZM1152.0,335h3V339h-3ZM1156.0,338h3V354h-3Z" fill="#ef5350" shape-rendering="crispEdges"/>
</g>
<text x="579.1" y="137.6" font-size="23" fill="#089981" font-weight="bold" text-anchor="start" textLength="13.9" lengthAdjust="spacingAndGlyphs">S</text>
<text x="806.7" y="51.0" font-size="23" fill="#089981" font-weight="bold" text-anchor="start" textLength="17.2" lengthAdjust="spacingAndGlyphs">H</text>
<text x="1026.1" y="146.7" font-size="23" fill="#089981" font-weight="bold" text-anchor="start" textLength="13.9" lengthAdjust="spacingAndGlyphs">S</text>
<path d="M732,314.5H750.3L749.4,291.5L766.4,314.5H785A7.3,7.3 0 0 1 792.3,321.8V340A7.3,7.3 0 0 1 785,347.3H732A7.3,7.3 0 0 1 724.7,340V321.8A7.3,7.3 0 0 1 732,314.5Z" fill="none" stroke="#a82838" stroke-width="1.4" stroke-linejoin="round"/>
<text x="735.3" y="334.0" font-size="12" fill="#a82838" font-weight="normal" text-anchor="start" textLength="46.5" lengthAdjust="spacingAndGlyphs" stroke="#a82838" stroke-width="0.3">Neckline</text>
<rect x="1158" y="533" width="23" height="23" fill="#fff"/>
<g transform="translate(1169.4,544.4)"><circle r="9.5" fill="none" stroke="#9c27b0" stroke-width="1.7"/><circle cx="6.9" cy="-6.8" r="4.5" fill="#fff"/><circle cx="6.9" cy="-6.8" r="2.65" fill="#f23645"/><path d="M2.3,-5.1L-4.0,0.55H0.0L-3.3,5.4L4.2,-0.55H0.4Z" fill="#9c27b0" stroke="#9c27b0" stroke-width="0.5" stroke-linejoin="round"/></g>
<text x="17.4" y="46.0" font-size="12" fill="#131722" font-weight="normal" text-anchor="start" textLength="110.0" lengthAdjust="spacingAndGlyphs" stroke="#131722" stroke-width="0.3">Hyperliquid / Tether</text>
<rect x="133.0" y="41.0" width="1.7" height="1.7" fill="#131722"/>
<text x="140.4" y="46.0" font-size="12" fill="#131722" font-weight="normal" text-anchor="start" textLength="12.9" lengthAdjust="spacingAndGlyphs" stroke="#131722" stroke-width="0.3">1D</text>
<rect x="158.5" y="41.0" width="1.7" height="1.7" fill="#131722"/>
<text x="165.0" y="46.0" font-size="12" fill="#131722" font-weight="normal" text-anchor="start" textLength="36.4" lengthAdjust="spacingAndGlyphs" stroke="#131722" stroke-width="0.3">KuCoin</text>
<text x="208.8" y="46.0" font-size="12" fill="#131722" font-weight="normal" text-anchor="start" textLength="8.3" lengthAdjust="spacingAndGlyphs" stroke="#131722" stroke-width="0.3">O</text>
<text x="216.8" y="46.0" font-size="12" fill="#26a69a" font-weight="normal" text-anchor="start" textLength="36.0" lengthAdjust="spacingAndGlyphs" stroke="#26a69a" stroke-width="0.3">29.129</text>
<text x="259.9" y="46.0" font-size="12" fill="#131722" font-weight="normal" text-anchor="start" textLength="7.2" lengthAdjust="spacingAndGlyphs" stroke="#131722" stroke-width="0.3">H</text>
<text x="266.8" y="46.0" font-size="12" fill="#26a69a" font-weight="normal" text-anchor="start" textLength="35.9" lengthAdjust="spacingAndGlyphs" stroke="#26a69a" stroke-width="0.3">29.981</text>
<text x="310.9" y="46.0" font-size="12" fill="#131722" font-weight="normal" text-anchor="start" textLength="6.5" lengthAdjust="spacingAndGlyphs" stroke="#131722" stroke-width="0.3">L</text>
<text x="317.2" y="46.0" font-size="12" fill="#26a69a" font-weight="normal" text-anchor="start" textLength="35.9" lengthAdjust="spacingAndGlyphs" stroke="#26a69a" stroke-width="0.3">28.832</text>
<text x="359.9" y="46.0" font-size="12" fill="#131722" font-weight="normal" text-anchor="start" textLength="7.2" lengthAdjust="spacingAndGlyphs" stroke="#131722" stroke-width="0.3">C</text>
<text x="366.9" y="46.0" font-size="12" fill="#26a69a" font-weight="normal" text-anchor="start" textLength="36.6" lengthAdjust="spacingAndGlyphs" stroke="#26a69a" stroke-width="0.3">29.134</text>
<text x="410.4" y="46.0" font-size="12" fill="#26a69a" font-weight="normal" text-anchor="start" textLength="85.2" lengthAdjust="spacingAndGlyphs" stroke="#26a69a" stroke-width="0.3">+0.003 (+0.01%)</text>
<text x="17.4" y="62.7" font-size="12" fill="#131722" font-weight="normal" text-anchor="start" textLength="82.5" lengthAdjust="spacingAndGlyphs" stroke="#131722" stroke-width="0.3">EMA (20, close)</text>
<text x="107.0" y="62.7" font-size="12" fill="#2962ff" font-weight="normal" text-anchor="start" textLength="36.5" lengthAdjust="spacingAndGlyphs" stroke="#2962ff" stroke-width="0.3">31.916</text>
<text x="17.4" y="79.8" font-size="12" fill="#131722" font-weight="normal" text-anchor="start" textLength="82.1" lengthAdjust="spacingAndGlyphs" stroke="#131722" stroke-width="0.3">SMA (50, close)</text>
<text x="106.8" y="79.8" font-size="12" fill="#f23645" font-weight="normal" text-anchor="start" textLength="36.4" lengthAdjust="spacingAndGlyphs" stroke="#f23645" stroke-width="0.3">37.237</text>
<g clip-path="url(#rp)">
<path d="M10,607.5H1277.5M10,709.5H1277.5" stroke="#787b86" stroke-width="1" stroke-dasharray="5 6" shape-rendering="crispEdges"/>
<path d="M10,658.5H1277.5" stroke="#b4b6bd" stroke-width="1" stroke-dasharray="5 6" shape-rendering="crispEdges"/>
<clipPath id="ob"><rect x="11" y="558" width="1267" height="49.5"/></clipPath><clipPath id="os"><rect x="11" y="709.5" width="1267" height="26"/></clipPath>
<path d="M11.1,677.7L15.2,696.3L19.2,702.1L23.3,701.1L27.4,711.8L31.4,712.8L35.5,712.8L39.5,717.0L43.6,721.7L47.7,717.0L51.7,721.1L55.8,725.2L59.9,701.5L63.9,694.2L68.0,703.9L72.0,699.4L76.1,686.0L80.2,669.5L84.2,681.9L88.3,662.8L92.4,665.7L96.4,657.1L100.5,654.0L104.6,661.2L108.6,679.4L112.7,673.6L116.7,682.9L120.8,688.0L124.9,690.5L128.9,683.9L133.0,679.4L137.1,692.2L141.1,693.2L145.2,691.1L149.3,688.0L153.3,703.1L157.4,684.9L161.4,687.6L165.5,658.1L169.6,650.9L173.6,637.4L177.7,632.3L181.8,643.6L185.8,640.5L189.9,648.8L193.9,640.5L198.0,629.2L202.1,629.2L206.1,621.3L210.2,627.7L214.3,622.0L218.3,614.7L222.4,625.7L226.5,623.0L230.5,629.8L234.6,637.4L238.6,644.7L242.7,631.3L246.8,631.3L250.8,618.4L254.9,618.9L259.0,611.6L263.0,610.2L267.1,628.2L271.2,624.0L275.2,617.8L279.3,616.2L283.3,597.2L287.4,588.9L291.5,581.7L295.5,604.4L299.6,605.0L303.7,599.2L307.7,607.9L311.8,602.3L315.8,597.8L319.9,612.7L324.0,604.4L328.0,613.3L332.1,613.7L336.2,598.2L340.2,578.6L344.3,581.7L348.4,575.5L352.4,566.6L356.5,588.9L360.5,600.3L364.6,614.7L368.7,638.9L372.7,631.3L376.8,632.3L380.9,624.0L384.9,614.1L389.0,617.8L393.1,622.0L397.1,635.4L401.2,641.2L405.2,632.3L409.3,631.3L413.4,611.6L417.4,598.6L421.5,602.3L425.6,614.1L429.6,607.5L433.7,625.1L437.7,620.9L441.8,617.4L445.9,632.3L449.9,636.4L454.0,655.0L458.1,674.6L462.1,666.4L466.2,658.6L470.3,645.7L474.3,650.4L478.4,652.9L482.4,661.2L486.5,656.0L490.6,648.8L494.6,637.0L498.7,638.5L502.8,657.1L506.8,640.1L510.9,638.5L514.9,646.7L519.0,645.3L523.1,642.2L527.1,651.5L531.2,649.2L535.3,638.5L539.3,622.0L543.4,609.6L547.5,606.5L551.5,599.9L555.6,611.6L559.6,611.2L563.7,618.9L567.8,630.2L571.8,641.2L575.9,640.5L580.0,631.3L584.0,644.7L588.1,633.3L592.2,650.9L596.2,662.8L600.3,650.3L604.3,655.4L608.4,654.0L612.5,652.9L616.5,655.0L620.6,664.3L624.7,674.6L628.7,693.2L632.8,696.7L636.8,684.9L640.9,679.8L645.0,681.9L649.0,684.5L653.1,660.2L657.2,658.7L661.2,639.5L665.3,630.2L669.4,646.7L673.4,635.4L677.5,622.6L681.5,638.1L685.6,627.7L689.7,638.1L693.7,641.5L697.8,656.0L701.9,669.5L705.9,660.0L710.0,672.6L714.1,646.7L718.1,648.8L722.2,643.6L726.2,660.2L730.3,634.8L734.4,643.6L738.4,650.9L742.5,656.0L746.6,658.1L750.6,657.5L754.7,663.3L758.7,655.0L762.8,648.8L766.9,650.9L770.9,641.6L775.0,649.8L779.1,643.6L783.1,626.1L787.2,615.8L791.3,607.5L795.3,603.4L799.4,615.8L803.4,622.0L807.5,627.7L811.6,626.1L815.6,624.4L819.7,609.6L823.8,607.5L827.8,626.1L831.9,640.5L835.9,661.2L840.0,677.7L844.1,687.0L848.1,681.4L852.2,699.4L856.3,676.7L860.3,671.5L864.4,665.3L868.5,669.5L872.5,673.6L876.6,662.2L880.6,646.7L884.7,652.9L888.8,654.6L892.8,659.1L896.9,663.3L901.0,674.0L905.0,665.9L909.1,678.8L913.2,700.0L917.2,702.5L921.3,688.0L925.3,672.9L929.4,682.9L933.5,690.1L937.5,692.2L941.6,695.7L945.7,688.0L949.7,683.9L953.8,681.4L957.8,690.7L961.9,686.0L966.0,663.3L970.0,666.4L974.1,644.7L978.2,632.7L982.2,636.0L986.3,631.9L990.4,630.8L994.4,645.7L998.5,655.0L1002.5,657.1L1006.6,663.3L1010.7,672.6L1014.7,678.3L1018.8,665.3L1022.9,677.3L1026.9,658.1L1031.0,666.4L1035.1,659.5L1039.1,661.2L1043.2,673.2L1047.2,674.2L1051.3,673.6L1055.4,678.8L1059.4,672.6L1063.5,671.5L1067.6,666.4L1071.6,670.5L1075.7,669.5L1079.7,676.7L1083.8,694.2L1087.9,711.8L1091.9,696.3L1096.0,683.9L1100.1,682.9L1104.1,666.4L1108.2,673.6L1112.3,673.2L1116.3,677.3L1120.4,688.0L1124.4,692.8L1128.5,672.6L1132.6,666.8L1136.6,673.2L1140.7,685.6L1144.8,686.0L1148.8,690.5L1152.9,693.2L1157.0,701.1L1161.0,692.2L1165.1,689.1L1169.1,688.8L1169.1,607.5L11.1,607.5Z" fill="url(#gg)" clip-path="url(#ob)"/>
<path d="M11.1,677.7L15.2,696.3L19.2,702.1L23.3,701.1L27.4,711.8L31.4,712.8L35.5,712.8L39.5,717.0L43.6,721.7L47.7,717.0L51.7,721.1L55.8,725.2L59.9,701.5L63.9,694.2L68.0,703.9L72.0,699.4L76.1,686.0L80.2,669.5L84.2,681.9L88.3,662.8L92.4,665.7L96.4,657.1L100.5,654.0L104.6,661.2L108.6,679.4L112.7,673.6L116.7,682.9L120.8,688.0L124.9,690.5L128.9,683.9L133.0,679.4L137.1,692.2L141.1,693.2L145.2,691.1L149.3,688.0L153.3,703.1L157.4,684.9L161.4,687.6L165.5,658.1L169.6,650.9L173.6,637.4L177.7,632.3L181.8,643.6L185.8,640.5L189.9,648.8L193.9,640.5L198.0,629.2L202.1,629.2L206.1,621.3L210.2,627.7L214.3,622.0L218.3,614.7L222.4,625.7L226.5,623.0L230.5,629.8L234.6,637.4L238.6,644.7L242.7,631.3L246.8,631.3L250.8,618.4L254.9,618.9L259.0,611.6L263.0,610.2L267.1,628.2L271.2,624.0L275.2,617.8L279.3,616.2L283.3,597.2L287.4,588.9L291.5,581.7L295.5,604.4L299.6,605.0L303.7,599.2L307.7,607.9L311.8,602.3L315.8,597.8L319.9,612.7L324.0,604.4L328.0,613.3L332.1,613.7L336.2,598.2L340.2,578.6L344.3,581.7L348.4,575.5L352.4,566.6L356.5,588.9L360.5,600.3L364.6,614.7L368.7,638.9L372.7,631.3L376.8,632.3L380.9,624.0L384.9,614.1L389.0,617.8L393.1,622.0L397.1,635.4L401.2,641.2L405.2,632.3L409.3,631.3L413.4,611.6L417.4,598.6L421.5,602.3L425.6,614.1L429.6,607.5L433.7,625.1L437.7,620.9L441.8,617.4L445.9,632.3L449.9,636.4L454.0,655.0L458.1,674.6L462.1,666.4L466.2,658.6L470.3,645.7L474.3,650.4L478.4,652.9L482.4,661.2L486.5,656.0L490.6,648.8L494.6,637.0L498.7,638.5L502.8,657.1L506.8,640.1L510.9,638.5L514.9,646.7L519.0,645.3L523.1,642.2L527.1,651.5L531.2,649.2L535.3,638.5L539.3,622.0L543.4,609.6L547.5,606.5L551.5,599.9L555.6,611.6L559.6,611.2L563.7,618.9L567.8,630.2L571.8,641.2L575.9,640.5L580.0,631.3L584.0,644.7L588.1,633.3L592.2,650.9L596.2,662.8L600.3,650.3L604.3,655.4L608.4,654.0L612.5,652.9L616.5,655.0L620.6,664.3L624.7,674.6L628.7,693.2L632.8,696.7L636.8,684.9L640.9,679.8L645.0,681.9L649.0,684.5L653.1,660.2L657.2,658.7L661.2,639.5L665.3,630.2L669.4,646.7L673.4,635.4L677.5,622.6L681.5,638.1L685.6,627.7L689.7,638.1L693.7,641.5L697.8,656.0L701.9,669.5L705.9,660.0L710.0,672.6L714.1,646.7L718.1,648.8L722.2,643.6L726.2,660.2L730.3,634.8L734.4,643.6L738.4,650.9L742.5,656.0L746.6,658.1L750.6,657.5L754.7,663.3L758.7,655.0L762.8,648.8L766.9,650.9L770.9,641.6L775.0,649.8L779.1,643.6L783.1,626.1L787.2,615.8L791.3,607.5L795.3,603.4L799.4,615.8L803.4,622.0L807.5,627.7L811.6,626.1L815.6,624.4L819.7,609.6L823.8,607.5L827.8,626.1L831.9,640.5L835.9,661.2L840.0,677.7L844.1,687.0L848.1,681.4L852.2,699.4L856.3,676.7L860.3,671.5L864.4,665.3L868.5,669.5L872.5,673.6L876.6,662.2L880.6,646.7L884.7,652.9L888.8,654.6L892.8,659.1L896.9,663.3L901.0,674.0L905.0,665.9L909.1,678.8L913.2,700.0L917.2,702.5L921.3,688.0L925.3,672.9L929.4,682.9L933.5,690.1L937.5,692.2L941.6,695.7L945.7,688.0L949.7,683.9L953.8,681.4L957.8,690.7L961.9,686.0L966.0,663.3L970.0,666.4L974.1,644.7L978.2,632.7L982.2,636.0L986.3,631.9L990.4,630.8L994.4,645.7L998.5,655.0L1002.5,657.1L1006.6,663.3L1010.7,672.6L1014.7,678.3L1018.8,665.3L1022.9,677.3L1026.9,658.1L1031.0,666.4L1035.1,659.5L1039.1,661.2L1043.2,673.2L1047.2,674.2L1051.3,673.6L1055.4,678.8L1059.4,672.6L1063.5,671.5L1067.6,666.4L1071.6,670.5L1075.7,669.5L1079.7,676.7L1083.8,694.2L1087.9,711.8L1091.9,696.3L1096.0,683.9L1100.1,682.9L1104.1,666.4L1108.2,673.6L1112.3,673.2L1116.3,677.3L1120.4,688.0L1124.4,692.8L1128.5,672.6L1132.6,666.8L1136.6,673.2L1140.7,685.6L1144.8,686.0L1148.8,690.5L1152.9,693.2L1157.0,701.1L1161.0,692.2L1165.1,689.1L1169.1,688.8L1169.1,709.5L11.1,709.5Z" fill="url(#rg)" clip-path="url(#os)"/>
<path d="M10.2,671.5C12.1,673.0 16.9,676.5 21.5,680.8C26.1,685.1 32.8,693.3 38.0,697.3C43.2,701.3 48.4,702.7 52.5,704.6C56.6,706.5 59.7,707.8 62.8,708.7C65.9,709.6 68.3,710.3 71.1,710.1C73.8,709.9 75.9,709.7 79.3,707.7C82.7,705.8 87.6,702.0 91.7,698.4C95.8,694.8 100.3,689.5 104.1,686.0C107.9,682.5 111.0,679.4 114.5,677.7C118.0,676.0 121.7,676.4 124.8,675.7C127.9,675.0 129.9,673.3 133.0,673.6C136.1,673.9 140.0,675.6 143.4,677.3C146.8,678.9 150.6,682.0 153.7,683.5C156.8,685.0 159.2,686.5 162.0,686.4C164.8,686.3 167.1,684.9 170.2,682.9C173.3,680.9 177.1,677.2 180.5,674.6C183.9,672.0 187.5,670.5 190.9,667.4C194.3,664.3 197.8,660.1 201.2,656.0C204.6,651.9 208.4,646.2 211.5,642.6C214.6,639.0 217.1,636.2 219.8,634.3C222.6,632.4 225.2,631.8 228.0,631.3C230.8,630.8 233.1,631.8 236.3,631.3C239.5,630.8 243.5,629.1 247.4,628.2C251.3,627.3 255.7,626.2 259.8,625.7C263.9,625.2 268.4,626.1 272.2,625.5C276.0,624.9 279.1,623.8 282.5,622.0C285.9,620.2 289.0,617.0 292.8,614.7C296.6,612.5 301.1,610.0 305.2,608.5C309.3,607.0 313.5,606.6 317.6,605.8C321.7,604.9 325.9,604.2 330.0,603.4C334.1,602.5 339.5,601.3 342.4,600.7C345.3,600.1 345.7,600.5 347.6,599.9C349.5,599.2 351.6,597.4 353.8,596.8C356.0,596.2 358.8,595.7 361.0,596.1C363.2,596.5 365.1,598.2 367.2,599.2C369.3,600.2 371.0,601.4 373.4,602.3C375.8,603.2 378.5,603.7 381.6,604.4C384.7,605.1 388.9,604.8 392.0,606.5C395.1,608.2 397.4,612.0 400.2,614.7C402.9,617.5 406.1,621.2 408.5,623.0C410.9,624.8 412.3,625.5 414.7,625.7C417.1,625.9 420.1,624.8 422.9,624.0C425.6,623.2 428.4,621.6 431.2,620.9C434.0,620.2 436.4,619.7 439.5,619.9C442.6,620.1 446.4,620.8 449.8,622.0C453.2,623.2 457.0,625.6 460.1,627.1C463.2,628.6 465.9,629.4 468.4,631.3C470.9,633.2 472.1,635.8 475.3,638.5C478.5,641.2 483.9,645.6 487.7,647.8C491.5,650.0 494.9,651.0 498.0,651.9C501.1,652.8 503.2,653.6 506.3,653.3C509.4,652.9 513.5,650.8 516.6,649.8C519.7,648.8 522.1,647.7 524.9,647.2C527.7,646.7 530.1,648.0 533.2,646.7C536.3,645.4 540.1,641.9 543.5,639.5C546.9,637.1 550.7,634.2 553.8,632.3C556.9,630.4 559.0,629.1 562.1,628.2C565.2,627.3 569.0,627.5 572.4,627.1C575.8,626.7 580.0,626.2 582.7,625.7C585.5,625.2 586.8,624.0 588.9,624.4C591.0,624.8 591.6,625.7 595.1,628.2C598.6,630.7 604.8,635.7 609.6,639.5C614.4,643.3 619.5,647.3 624.0,650.9C628.5,654.5 632.3,658.0 636.4,661.2C640.5,664.4 645.3,668.2 648.8,669.9C652.2,671.5 654.4,671.4 657.1,671.1C659.9,670.9 662.5,669.2 665.3,668.4C668.0,667.6 670.5,667.9 673.6,666.4C676.7,664.9 680.5,662.0 683.9,659.1C687.3,656.2 690.7,651.2 694.2,648.8C697.7,646.4 701.4,645.3 705.0,644.7C708.6,644.1 711.9,644.8 715.7,645.3C719.5,645.8 723.9,646.7 728.0,647.8C732.1,648.9 736.3,650.8 740.4,651.9C744.5,653.0 748.7,654.8 752.8,654.6C756.9,654.4 761.1,651.5 765.2,650.9C769.3,650.3 773.8,651.7 777.6,650.9C781.4,650.1 784.5,648.2 787.9,646.3C791.3,644.4 794.8,641.8 798.3,639.5C801.8,637.2 805.2,634.5 808.6,632.3C812.0,630.1 815.8,627.9 818.9,626.1C822.0,624.3 824.8,622.3 827.2,621.5C829.6,620.7 831.3,620.5 833.4,621.3C835.5,622.1 837.2,623.4 839.6,626.1C842.0,628.8 845.0,633.8 847.8,637.4C850.5,641.0 853.0,644.7 856.1,647.8C859.2,650.9 863.0,653.2 866.4,656.0C869.8,658.8 873.6,662.2 876.7,664.3C879.8,666.4 882.2,667.5 885.0,668.4C887.8,669.3 890.5,669.9 893.3,669.9C896.0,669.9 898.9,669.2 901.5,668.4C904.1,667.6 906.4,665.3 908.8,665.3C911.2,665.3 913.4,667.4 916.0,668.4C918.6,669.4 921.0,670.0 924.2,671.5C927.4,673.0 931.0,675.6 935.3,677.7C939.6,679.8 945.3,682.2 949.8,683.9C954.3,685.5 958.8,687.6 962.2,687.6C965.6,687.6 967.3,686.1 970.4,683.9C973.5,681.7 977.0,678.0 980.8,674.6C984.6,671.2 989.1,666.4 993.2,663.3C997.3,660.2 1001.4,657.7 1005.5,656.0C1009.6,654.3 1014.1,653.2 1017.9,652.9C1021.7,652.6 1024.8,653.1 1028.3,654.0C1031.8,654.9 1034.8,656.2 1038.6,658.1C1042.4,660.0 1047.2,663.6 1051.0,665.3C1054.8,667.0 1057.5,667.7 1061.3,668.4C1065.1,669.1 1070.2,669.1 1073.7,669.5C1077.2,669.9 1079.2,669.3 1082.0,670.5C1084.8,671.7 1087.1,675.2 1090.2,676.7C1093.3,678.2 1097.0,679.3 1100.5,679.8C1104.0,680.2 1107.5,679.0 1110.9,679.4C1114.4,679.8 1117.8,681.2 1121.2,681.9C1124.6,682.5 1128.4,683.3 1131.5,683.3C1134.6,683.3 1136.9,682.5 1139.8,681.9C1142.7,681.2 1146.0,679.4 1149.1,679.4C1152.2,679.4 1155.8,681.0 1158.4,681.9C1161.1,682.8 1163.2,684.1 1165.0,684.9C1166.8,685.7 1168.7,686.4 1169.4,686.7" stroke="#fdd835" stroke-width="1.1" fill="none"/>
<path d="M11.1,677.7L15.2,696.3L19.2,702.1L23.3,701.1L27.4,711.8L31.4,712.8L35.5,712.8L39.5,717.0L43.6,721.7L47.7,717.0L51.7,721.1L55.8,725.2L59.9,701.5L63.9,694.2L68.0,703.9L72.0,699.4L76.1,686.0L80.2,669.5L84.2,681.9L88.3,662.8L92.4,665.7L96.4,657.1L100.5,654.0L104.6,661.2L108.6,679.4L112.7,673.6L116.7,682.9L120.8,688.0L124.9,690.5L128.9,683.9L133.0,679.4L137.1,692.2L141.1,693.2L145.2,691.1L149.3,688.0L153.3,703.1L157.4,684.9L161.4,687.6L165.5,658.1L169.6,650.9L173.6,637.4L177.7,632.3L181.8,643.6L185.8,640.5L189.9,648.8L193.9,640.5L198.0,629.2L202.1,629.2L206.1,621.3L210.2,627.7L214.3,622.0L218.3,614.7L222.4,625.7L226.5,623.0L230.5,629.8L234.6,637.4L238.6,644.7L242.7,631.3L246.8,631.3L250.8,618.4L254.9,618.9L259.0,611.6L263.0,610.2L267.1,628.2L271.2,624.0L275.2,617.8L279.3,616.2L283.3,597.2L287.4,588.9L291.5,581.7L295.5,604.4L299.6,605.0L303.7,599.2L307.7,607.9L311.8,602.3L315.8,597.8L319.9,612.7L324.0,604.4L328.0,613.3L332.1,613.7L336.2,598.2L340.2,578.6L344.3,581.7L348.4,575.5L352.4,566.6L356.5,588.9L360.5,600.3L364.6,614.7L368.7,638.9L372.7,631.3L376.8,632.3L380.9,624.0L384.9,614.1L389.0,617.8L393.1,622.0L397.1,635.4L401.2,641.2L405.2,632.3L409.3,631.3L413.4,611.6L417.4,598.6L421.5,602.3L425.6,614.1L429.6,607.5L433.7,625.1L437.7,620.9L441.8,617.4L445.9,632.3L449.9,636.4L454.0,655.0L458.1,674.6L462.1,666.4L466.2,658.6L470.3,645.7L474.3,650.4L478.4,652.9L482.4,661.2L486.5,656.0L490.6,648.8L494.6,637.0L498.7,638.5L502.8,657.1L506.8,640.1L510.9,638.5L514.9,646.7L519.0,645.3L523.1,642.2L527.1,651.5L531.2,649.2L535.3,638.5L539.3,622.0L543.4,609.6L547.5,606.5L551.5,599.9L555.6,611.6L559.6,611.2L563.7,618.9L567.8,630.2L571.8,641.2L575.9,640.5L580.0,631.3L584.0,644.7L588.1,633.3L592.2,650.9L596.2,662.8L600.3,650.3L604.3,655.4L608.4,654.0L612.5,652.9L616.5,655.0L620.6,664.3L624.7,674.6L628.7,693.2L632.8,696.7L636.8,684.9L640.9,679.8L645.0,681.9L649.0,684.5L653.1,660.2L657.2,658.7L661.2,639.5L665.3,630.2L669.4,646.7L673.4,635.4L677.5,622.6L681.5,638.1L685.6,627.7L689.7,638.1L693.7,641.5L697.8,656.0L701.9,669.5L705.9,660.0L710.0,672.6L714.1,646.7L718.1,648.8L722.2,643.6L726.2,660.2L730.3,634.8L734.4,643.6L738.4,650.9L742.5,656.0L746.6,658.1L750.6,657.5L754.7,663.3L758.7,655.0L762.8,648.8L766.9,650.9L770.9,641.6L775.0,649.8L779.1,643.6L783.1,626.1L787.2,615.8L791.3,607.5L795.3,603.4L799.4,615.8L803.4,622.0L807.5,627.7L811.6,626.1L815.6,624.4L819.7,609.6L823.8,607.5L827.8,626.1L831.9,640.5L835.9,661.2L840.0,677.7L844.1,687.0L848.1,681.4L852.2,699.4L856.3,676.7L860.3,671.5L864.4,665.3L868.5,669.5L872.5,673.6L876.6,662.2L880.6,646.7L884.7,652.9L888.8,654.6L892.8,659.1L896.9,663.3L901.0,674.0L905.0,665.9L909.1,678.8L913.2,700.0L917.2,702.5L921.3,688.0L925.3,672.9L929.4,682.9L933.5,690.1L937.5,692.2L941.6,695.7L945.7,688.0L949.7,683.9L953.8,681.4L957.8,690.7L961.9,686.0L966.0,663.3L970.0,666.4L974.1,644.7L978.2,632.7L982.2,636.0L986.3,631.9L990.4,630.8L994.4,645.7L998.5,655.0L1002.5,657.1L1006.6,663.3L1010.7,672.6L1014.7,678.3L1018.8,665.3L1022.9,677.3L1026.9,658.1L1031.0,666.4L1035.1,659.5L1039.1,661.2L1043.2,673.2L1047.2,674.2L1051.3,673.6L1055.4,678.8L1059.4,672.6L1063.5,671.5L1067.6,666.4L1071.6,670.5L1075.7,669.5L1079.7,676.7L1083.8,694.2L1087.9,711.8L1091.9,696.3L1096.0,683.9L1100.1,682.9L1104.1,666.4L1108.2,673.6L1112.3,673.2L1116.3,677.3L1120.4,688.0L1124.4,692.8L1128.5,672.6L1132.6,666.8L1136.6,673.2L1140.7,685.6L1144.8,686.0L1148.8,690.5L1152.9,693.2L1157.0,701.1L1161.0,692.2L1165.1,689.1L1169.1,688.8" stroke="#7e57c2" stroke-width="2.6" fill="none" stroke-linejoin="round" stroke-linecap="round"/>
<path d="M1070.5,718L1201.8,692" stroke="#1c3f8f" stroke-width="2.8" stroke-linecap="round"/>
</g>
<text x="17.9" y="577.2" font-size="12" fill="#131722" font-weight="normal" text-anchor="start" textLength="77.4" lengthAdjust="spacingAndGlyphs" stroke="#131722" stroke-width="0.3">RSI (14, close)</text>
<text x="102.0" y="577.2" font-size="12" fill="#7e57c2" font-weight="normal" text-anchor="start" textLength="28.9" lengthAdjust="spacingAndGlyphs" stroke="#7e57c2" stroke-width="0.3">37.41</text>
<text x="138.6" y="577.2" font-size="12" fill="#fdd835" font-weight="normal" text-anchor="start" textLength="29.5" lengthAdjust="spacingAndGlyphs" stroke="#fdd835" stroke-width="0.3">38.95</text>
<path d="M1096.4,627.2H1200.6A7.2,7.2 0 0 1 1207.8,634.4V652.2A7.2,7.2 0 0 1 1200.6,659.4H1156.4L1180.4,694L1140.3,659.4H1096.4A7.2,7.2 0 0 1 1089.2,652.2V634.4A7.2,7.2 0 0 1 1096.4,627.2Z" fill="none" stroke="#a82838" stroke-width="1.4" stroke-linejoin="round"/>
<text x="1099.8" y="647.2" font-size="12" fill="#a82838" font-weight="normal" text-anchor="start" textLength="98.1" lengthAdjust="spacingAndGlyphs" stroke="#a82838" stroke-width="0.3">Bullish divergence</text>
<text x="1286.0" y="90.3" font-size="12" fill="#131722" font-weight="normal" text-anchor="start" textLength="35.7" lengthAdjust="spacingAndGlyphs" stroke="#131722" stroke-width="0.3">56.000</text>
<text x="1286.0" y="128.3" font-size="12" fill="#131722" font-weight="normal" text-anchor="start" textLength="35.7" lengthAdjust="spacingAndGlyphs" stroke="#131722" stroke-width="0.3">52.000</text>
<text x="1286.0" y="166.3" font-size="12" fill="#131722" font-weight="normal" text-anchor="start" textLength="35.7" lengthAdjust="spacingAndGlyphs" stroke="#131722" stroke-width="0.3">48.000</text>
<text x="1286.0" y="204.3" font-size="12" fill="#131722" font-weight="normal" text-anchor="start" textLength="35.7" lengthAdjust="spacingAndGlyphs" stroke="#131722" stroke-width="0.3">44.000</text>
<text x="1286.0" y="242.3" font-size="12" fill="#131722" font-weight="normal" text-anchor="start" textLength="35.7" lengthAdjust="spacingAndGlyphs" stroke="#131722" stroke-width="0.3">40.000</text>
<text x="1286.0" y="394.3" font-size="12" fill="#131722" font-weight="normal" text-anchor="start" textLength="35.7" lengthAdjust="spacingAndGlyphs" stroke="#131722" stroke-width="0.3">24.000</text>
<text x="1286.0" y="432.3" font-size="12" fill="#131722" font-weight="normal" text-anchor="start" textLength="35.7" lengthAdjust="spacingAndGlyphs" stroke="#131722" stroke-width="0.3">20.000</text>
<text x="1286.0" y="470.3" font-size="12" fill="#131722" font-weight="normal" text-anchor="start" textLength="35.7" lengthAdjust="spacingAndGlyphs" stroke="#131722" stroke-width="0.3">16.000</text>
<text x="1286.0" y="508.3" font-size="12" fill="#131722" font-weight="normal" text-anchor="start" textLength="35.7" lengthAdjust="spacingAndGlyphs" stroke="#131722" stroke-width="0.3">12.000</text>
<text x="1286.0" y="546.3" font-size="12" fill="#131722" font-weight="normal" text-anchor="start" textLength="29.9" lengthAdjust="spacingAndGlyphs" stroke="#131722" stroke-width="0.3">8.000</text>
<text x="1286.0" y="586.0" font-size="12" fill="#131722" font-weight="normal" text-anchor="start" textLength="30.1" lengthAdjust="spacingAndGlyphs" stroke="#131722" stroke-width="0.3">80.00</text>
<text x="1286.0" y="637.0" font-size="12" fill="#131722" font-weight="normal" text-anchor="start" textLength="30.1" lengthAdjust="spacingAndGlyphs" stroke="#131722" stroke-width="0.3">60.00</text>
<rect x="1281" y="30.6" width="58" height="26.6" rx="4.5" fill="#fff" stroke="#f0f1f3"/>
<text x="1289.8" y="48.9" font-size="12" fill="#131722" font-weight="normal" text-anchor="start" textLength="28.2" lengthAdjust="spacingAndGlyphs" stroke="#131722" stroke-width="0.3">USDT</text>
<path d="M1229.3,255.9H1277V272.9H1229.3A2.2,2.2 0 0 1 1227.1,270.7V258.1A2.2,2.2 0 0 1 1229.3,255.9Z" fill="#f23645"/>
<text x="1231.2" y="268.7" font-size="12" fill="#fff" font-weight="bold" text-anchor="start" textLength="42.6" lengthAdjust="spacingAndGlyphs">SMA:MA</text>
<path d="M1278,255.9H1324.8A2.2,2.2 0 0 1 1327,258.1V270.7A2.2,2.2 0 0 1 1324.8,272.9H1278Z" fill="#f23645"/>
<text x="1285.6" y="268.7" font-size="12" fill="#fff" font-weight="bold" text-anchor="start" textLength="36.7" lengthAdjust="spacingAndGlyphs">37.237</text>
<path d="M1278,272.9H1324.8A2.2,2.2 0 0 1 1327,275.09999999999997V287.7A2.2,2.2 0 0 1 1324.8,289.9H1278Z" fill="#0000ff"/>
<text x="1285.6" y="285.8" font-size="12" fill="#fff" font-weight="bold" text-anchor="start" textLength="36.7" lengthAdjust="spacingAndGlyphs">35.500</text>
<path d="M1248.4,299.0H1277V316.0H1248.4A2.2,2.2 0 0 1 1246.2,313.8V301.2A2.2,2.2 0 0 1 1248.4,299.0Z" fill="#2962ff"/>
<text x="1250.5" y="311.7" font-size="12" fill="#fff" font-weight="bold" text-anchor="start" textLength="23.4" lengthAdjust="spacingAndGlyphs">EMA</text>
<path d="M1278,299.0H1324.8A2.2,2.2 0 0 1 1327,301.2V313.8A2.2,2.2 0 0 1 1324.8,316.0H1278Z" fill="#2962ff"/>
<text x="1285.6" y="311.7" font-size="12" fill="#fff" font-weight="bold" text-anchor="start" textLength="36.7" lengthAdjust="spacingAndGlyphs">31.916</text>
<path d="M1278,316.0H1324.8A2.2,2.2 0 0 1 1327,318.2V330.8A2.2,2.2 0 0 1 1324.8,333.0H1278Z" fill="#0000ff"/>
<text x="1285.6" y="328.7" font-size="12" fill="#fff" font-weight="bold" text-anchor="start" textLength="36.7" lengthAdjust="spacingAndGlyphs">29.370</text>
<path d="M1215.2,333.0H1277V350.0H1215.2A2.2,2.2 0 0 1 1213,347.8V335.2A2.2,2.2 0 0 1 1215.2,333.0Z" fill="#26a69a"/>
<text x="1216.8" y="345.8" font-size="12" fill="#fff" font-weight="bold" text-anchor="start" textLength="55.4" lengthAdjust="spacingAndGlyphs">HYPEUSDT</text>
<path d="M1278,333.0H1335.5A2.2,2.2 0 0 1 1337.7,335.2V375.6A2.2,2.2 0 0 1 1335.5,377.8H1278Z" fill="#26a69a"/>
<text x="1285.6" y="345.8" font-size="12" fill="#fff" font-weight="bold" text-anchor="start" textLength="36.7" lengthAdjust="spacingAndGlyphs">29.134</text>
<text x="1285.6" y="359.8" font-size="12" fill="#fff" font-weight="bold" text-anchor="start" textLength="44.0" lengthAdjust="spacingAndGlyphs">+48.51%</text>
<text x="1285.6" y="373.9" font-size="12" fill="#fff" font-weight="normal" text-anchor="start" textLength="46.9" lengthAdjust="spacingAndGlyphs" stroke="#fff" stroke-width="0.3" fill-opacity="0.75" stroke-opacity="0.75">08:37:30</text>
<path d="M1200.1000000000001,665H1277V682H1200.1000000000001A2.2,2.2 0 0 1 1197.9,679.8V667.2A2.2,2.2 0 0 1 1200.1000000000001,665Z" fill="#fdd835"/>
<text x="1201.3" y="677.8" font-size="12" fill="#131722" font-weight="normal" text-anchor="start" textLength="72.4" lengthAdjust="spacingAndGlyphs" stroke="#131722" stroke-width="0.3">RSI-based MA</text>
<path d="M1278,665H1318.8A2.2,2.2 0 0 1 1321,667.2V679.8A2.2,2.2 0 0 1 1318.8,682H1278Z" fill="#fdd835"/>
<text x="1285.6" y="677.8" font-size="12" fill="#131722" font-weight="normal" text-anchor="start" textLength="29.9" lengthAdjust="spacingAndGlyphs" stroke="#131722" stroke-width="0.3">38.95</text>
<path d="M1254.2,682.2H1277V699.2H1254.2A2.2,2.2 0 0 1 1252,697.0V684.4000000000001A2.2,2.2 0 0 1 1254.2,682.2Z" fill="#7e57c2"/>
<text x="1256.0" y="695.1" font-size="12" fill="#fff" font-weight="bold" text-anchor="start" textLength="17.4" lengthAdjust="spacingAndGlyphs">RSI</text>
<path d="M1278,682.2H1318.8A2.2,2.2 0 0 1 1321,684.4000000000001V697.0A2.2,2.2 0 0 1 1318.8,699.2H1278Z" fill="#7e57c2"/>
<text x="1285.6" y="695.1" font-size="12" fill="#fff" font-weight="bold" text-anchor="start" textLength="29.9" lengthAdjust="spacingAndGlyphs">37.41</text>
<text x="133.2" y="753.4" font-size="12" fill="#131722" font-weight="normal" text-anchor="middle" stroke="#131722" stroke-width="0.3">Apr</text>
<text x="255.2" y="753.4" font-size="12" fill="#131722" font-weight="normal" text-anchor="middle" stroke="#131722" stroke-width="0.3">May</text>
<text x="381.2" y="753.4" font-size="12" fill="#131722" font-weight="normal" text-anchor="middle" stroke="#131722" stroke-width="0.3">Jun</text>
<text x="503.2" y="753.4" font-size="12" fill="#131722" font-weight="normal" text-anchor="middle" stroke="#131722" stroke-width="0.3">Jul</text>
<text x="628.2" y="753.4" font-size="12" fill="#131722" font-weight="normal" text-anchor="middle" stroke="#131722" stroke-width="0.3">Aug</text>
<text x="754.2" y="753.4" font-size="12" fill="#131722" font-weight="normal" text-anchor="middle" stroke="#131722" stroke-width="0.3">Sep</text>
<text x="876.2" y="753.4" font-size="12" fill="#131722" font-weight="normal" text-anchor="middle" stroke="#131722" stroke-width="0.3">Oct</text>
<text x="1002.2" y="753.4" font-size="12" fill="#131722" font-weight="normal" text-anchor="middle" stroke="#131722" stroke-width="0.3">Nov</text>
<text x="1124.2" y="753.4" font-size="12" fill="#131722" font-weight="normal" text-anchor="middle" stroke="#131722" stroke-width="0.3">Dec</text>
<text x="1250.3" y="753.4" font-size="12" fill="#131722" font-weight="bold" text-anchor="middle" textLength="27.5" lengthAdjust="spacingAndGlyphs">2026</text>
<path d="M12,785H23.85V799.8H17.93V790.9H12Z" fill="#131722"/><circle cx="29.02" cy="787.95" r="2.95" fill="#131722"/><path d="M34.93,785H41.73L35.67,799.8H29.02Z" fill="#131722"/>
<text x="48.8" y="799.8" font-size="20.3" fill="#131722" font-weight="bold" text-anchor="start" textLength="120.3" lengthAdjust="spacingAndGlyphs">TradingView</text>
</svg></body></html>
